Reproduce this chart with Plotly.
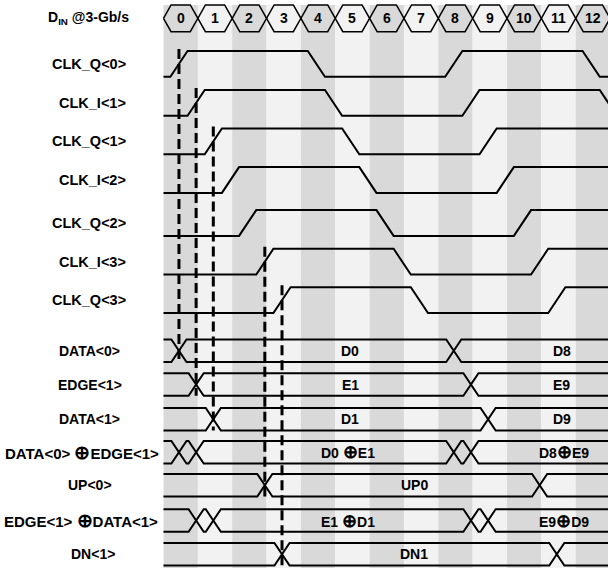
import plotly.graph_objects as go

# ---------------- data ----------------
bit_labels = [str(i) for i in range(13)]

XOR = '<span style="font-size:19px">⊕</span>'
XORS = '<span style="font-size:18px">⊕</span>'

clock_names = ["CLK_Q&lt;0&gt;", "CLK_I&lt;1&gt;", "CLK_Q&lt;1&gt;", "CLK_I&lt;2&gt;",
               "CLK_Q&lt;2&gt;", "CLK_I&lt;3&gt;", "CLK_Q&lt;3&gt;"]
# rising / falling edge start times (in UI) for each clock phase
clock_rise = [[0.2, 8.2], [0.7, 8.7], [1.2, 9.2], [1.7, 9.7],
              [2.2, 10.2], [2.7, 10.7], [3.2, 11.2]]
clock_fall = [[4.2, 12.2], [4.7, 12.7], [5.2], [5.7], [6.2], [6.7], [7.2]]

bus_names = ["DATA&lt;0&gt;", "EDGE&lt;1&gt;", "DATA&lt;1&gt;",
             "DATA&lt;0&gt; " + XOR + "EDGE&lt;1&gt;", "UP&lt;0&gt;",
             "EDGE&lt;1&gt; " + XOR + "DATA&lt;1&gt;", "DN&lt;1&gt;"]
bus_transitions = [[0.45, 8.45], [0.95, 8.95], [1.45, 9.45],
                   [0.45, 0.95, 8.45, 8.95], [2.95, 10.95],
                   [0.95, 1.45, 8.95, 9.45], [3.45, 11.45]]
bus_texts = [[("D0", 5.43), ("D8", 11.6)],
             [("E1", 5.43), ("E9", 11.6)],
             [("D1", 5.43), ("D9", 11.6)],
             [("D0 " + XORS + "E1", 5.36), ("D8" + XORS + "E9", 11.66)],
             [("UP0", 7.3)],
             [("E1 " + XORS + "D1", 5.36), ("E9" + XORS + "D9", 11.66)],
             [("DN1", 7.3)]]

# sampling edges: (clock index, bus index)
sample_links = [(0, 0), (1, 1), (2, 2), (5, 4), (6, 6)]

# ---------------- layout constants ----------------
W, H = 608, 568
X0PX, UI = 163.5, 34.35
XMIN, XMAX = -X0PX / UI, (W - X0PX) / UI
EDGE = 0.5          # clock edge duration (UI)
HX = 0.22           # bus crossing half width (UI)
clk_y = [63.9, 102.9, 141.3, 180.0, 223.0, 261.7, 300.2]
clk_amp = 12.9
bus_y = [350.7, 384.5, 419.2, 452.3, 485.3, 520.5, 554.2]
bus_hh = 11.3
hex_top, hex_bot = 5.0, 31.7
hex_mid = (hex_top + hex_bot) / 2
DARK, LIGHT = "#d9d9d9", "#f2f2f2"
FONT = "Liberation Sans, Arial, sans-serif"

fig = go.Figure()
shapes = []
annotations = []

# background columns
for k in range(len(bit_labels)):
    shapes.append(dict(type="rect", layer="below", xref="x", yref="y",
                       x0=k, x1=k + 1, y0=hex_top, y1=H,
                       fillcolor=DARK if k % 2 == 0 else LIGHT, line_width=0))

# hexagons for input bits
hx, hy = [], []
for k, lab in enumerate(bit_labels):
    hx += [k, k + HX, k + 1 - HX, k + 1, k + 1 - HX, k + HX, k, None]
    hy += [hex_mid, hex_top, hex_top, hex_mid, hex_bot, hex_bot, hex_mid, None]
    annotations.append(dict(x=k + 0.5, y=hex_mid, xref="x", yref="y",
                            text="<b>%s</b>" % lab, showarrow=False,
                            font=dict(size=14, color="black", family=FONT)))
fig.add_trace(go.Scatter(x=hx, y=hy, mode="lines",
                         line=dict(color="black", width=1.5), hoverinfo="skip"))

# clocks
for i, name in enumerate(clock_names):
    hi, lo = clk_y[i] - clk_amp, clk_y[i] + clk_amp
    events = sorted([(t, 1) for t in clock_rise[i]] + [(t, 0) for t in clock_fall[i]])
    xs, ys = [0], [lo]
    level = lo
    for t, up in events:
        new = hi if up else lo
        xs += [t, t + EDGE]
        ys += [level, new]
        level = new
    xs.append(XMAX + 1)
    ys.append(level)
    fig.add_trace(go.Scatter(x=xs, y=ys, mode="lines",
                             line=dict(color="black", width=2), hoverinfo="skip"))
    annotations.append(dict(x=127.5 / W, y=clk_y[i], xref="paper", yref="y",
                            xanchor="right", text="<b>%s</b>" % name, showarrow=False,
                            font=dict(size=14.5, color="black", family=FONT)))

# buses
bus_label_x = [89.2, 89.5, 89.2, 81.5, 90.0, 81.3, 92.5]
bus_label_size = [14, 14, 14, 15, 14, 15, 14]
for j, name in enumerate(bus_names):
    top, bot = bus_y[j] - bus_hh, bus_y[j] + bus_hh
    ax, ay, bx, by = [0], [top], [0], [bot]
    la, lb = top, bot
    for t in bus_transitions[j]:
        ax += [t - HX, t + HX]
        ay += [la, lb]
        bx += [t - HX, t + HX]
        by += [lb, la]
        la, lb = lb, la
    ax.append(XMAX + 1); ay.append(la)
    bx.append(XMAX + 1); by.append(lb)
    fig.add_trace(go.Scatter(x=ax + [None] + bx, y=ay + [None] + by, mode="lines",
                             line=dict(color="black", width=2), hoverinfo="skip"))
    for txt, xt in bus_texts[j]:
        annotations.append(dict(x=xt, y=bus_y[j], xref="x", yref="y",
                                text="<b>%s</b>" % txt, showarrow=False,
                                font=dict(size=14, color="black", family=FONT)))
    annotations.append(dict(x=bus_label_x[j] / W, y=bus_y[j], xref="paper", yref="y",
                            xanchor="center", text="<b>%s</b>" % name, showarrow=False,
                            font=dict(size=bus_label_size[j], color="black", family=FONT)))

# dashed sampling lines
for ci, bj in sample_links:
    t = clock_rise[ci][0] + EDGE / 2
    fig.add_trace(go.Scatter(x=[t, t], y=[clk_y[ci] - clk_amp - 2, bus_y[bj] + bus_hh],
                             mode="lines", hoverinfo="skip",
                             line=dict(color="black", width=3, dash="10px,5px")))

# input label
annotations.append(dict(x=131 / W, y=hex_mid, xref="paper", yref="y", xanchor="right",
                        text="<b>D<sub>IN</sub> @3-Gb/s</b>", showarrow=False,
                        font=dict(size=14, color="black", family=FONT)))

fig.update_layout(
    width=W, height=H, margin=dict(l=0, r=0, t=0, b=0),
    paper_bgcolor="white", plot_bgcolor="white", showlegend=False,
    xaxis=dict(range=[XMIN, XMAX], visible=False, fixedrange=True),
    yaxis=dict(range=[H, 0], visible=False, fixedrange=True),
    shapes=shapes, annotations=annotations,
)
fig.write_html("out.html", config={"displayModeBar": False, "staticPlot": True},
               post_script="document.body.style.margin='0';document.body.style.overflow='hidden';")
